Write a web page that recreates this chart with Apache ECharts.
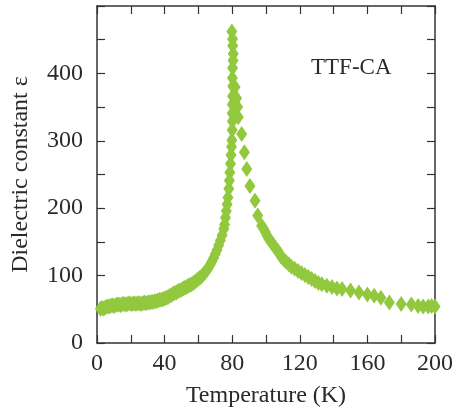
<!DOCTYPE html>
<html>
<head>
<meta charset="utf-8">
<script src="https://cdn.jsdelivr.net/npm/echarts@6/dist/echarts.min.js"></script>
<style>html,body{margin:0;padding:0;background:#fff;}#c{width:458px;height:414px;}</style>
</head>
<body>
<div id="c"></div>
<script>
// Low-temperature branch up to the peak (T in K, epsilon)
var lowT = [2,3,4,5,6,7,8,9,10,11,12,13,14,15,16,17,18,19,20,21,22,23,24,25,26,27,28,29,30,31,32,33,34,35,36,37,38,39,40,41,42,43,44,45,46,47,48,49,50,51,52,53,54,55,56,57,58,59,60,61,62,63,64,65,66,67,68,69,70,71,72,73,74,75,75.5,76,76.5,77,77.5,78,78.3,78.6,79,79.3,79.6,79.8,80,80.1,80,80.1,80.2,80.3,80.1,80.2,80.5,80.6,80.3,80.2,79.8];
var lowEps = [51,52,51,53,54,54,55,56,55,56,57,57,56,58,58,57,58,59,58,58,59,58,59,59,58,59,60,59,60,60,61,61,62,62,63,64,64,65,66,67,68,70,71,73,74,75,77,78,79,81,82,83,85,86,87,89,91,93,95,97,99,102,105,108,112,116,121,126,132,138,145,152,160,169,176,186,196,206,216,229,241,253,266,279,291,301,316,329,341,354,366,381,393,408,419,429,441,451,462];
// High-temperature branch after the peak
var highT = [81.7,82.6,83.2,83.6,85.6,87.2,88.6,90.5,93.5,95.1,97.4,98.5,99.5,100.5,101.5,102.5,103.5,104.5,105.5,107,108,109,110.5,112,113.5,115,117,119,121,123,125,127,129,131,133,136,139,142,145,150,155,160,164,168,173,180,186,190,193,196,198,200];
var highEps = [380,363,350,335,310,283,258,233,211,189,174,170,165,160,155,152,148,145,141,137,132,128,124,120,117,113,110,107,104,101,98,95,92,89,87,85,83,81,80,78,75,72,70,67,60,58,57,55,54,54,55,54];

var xLabels = [0,40,80,120,160,200];
var yLabels = [0,100,200,300,400];

function pairs(a,b){var r=[];for(var i=0;i<a.length;i++)r.push([a[i],b[i]]);return r;}

var serif = 'Liberation Serif';
var axisCol = '#333';
var txtCol = '#2a2a2a';
var chart = echarts.init(document.getElementById('c'));
function baseAxis(pos, show){
  return {
    type:'value', position:pos,
    axisLine:{show:true, onZero:false, lineStyle:{color:axisCol, width:1.5}},
    axisTick:{show:true, inside:true, length:8, lineStyle:{color:axisCol, width:1.2}},
    minorTick:{show:true, splitNumber:2, length:8, lineStyle:{color:axisCol, width:1.2}},
    splitLine:{show:false},
    axisLabel:{show:show}
  };
}
var xb = baseAxis('bottom', true);
xb.min=0; xb.max=200; xb.interval=40;
xb.axisLabel={show:true, fontFamily:serif, fontSize:24, color:txtCol, margin:9,
  formatter:function(v){return xLabels.indexOf(v)>=0?String(v):'';}};
xb.name='Temperature (K)'; xb.nameLocation='middle'; xb.nameGap=41;
xb.nameTextStyle={fontFamily:serif, fontSize:24, color:txtCol};
var xt = baseAxis('top', false); xt.min=0; xt.max=200; xt.interval=40;
var yl = baseAxis('left', true);
yl.min=0; yl.max=500; yl.interval=100;
yl.axisLabel={show:true, fontFamily:serif, fontSize:24, color:txtCol, margin:14,
  formatter:function(v){return yLabels.indexOf(v)>=0?String(v):'';}};
yl.name='Dielectric constant ε'; yl.nameLocation='middle'; yl.nameGap=64;
yl.nameTextStyle={fontFamily:serif, fontSize:24, color:txtCol};
var yr = baseAxis('right', false); yr.min=0; yr.max=500; yr.interval=100;

chart.setOption({
  animation:false,
  grid:{left:97, right:23, top:6, bottom:71, containLabel:false},
  xAxis:[xb, xt],
  yAxis:[yl, yr],
  graphic:[{type:'text', left:311, top:56, style:{text:'TTF-CA', font:'23px "Liberation Serif"', fill:txtCol}}],
  series:[
    {type:'scatter', symbol:'diamond', symbolSize:[11,16], itemStyle:{color:'#92c83e', opacity:1}, data:pairs(lowT,lowEps)},
    {type:'scatter', symbol:'diamond', symbolSize:[11,16], itemStyle:{color:'#92c83e', opacity:1}, data:pairs(highT,highEps)}
  ]
});
</script>
</body>
</html>
